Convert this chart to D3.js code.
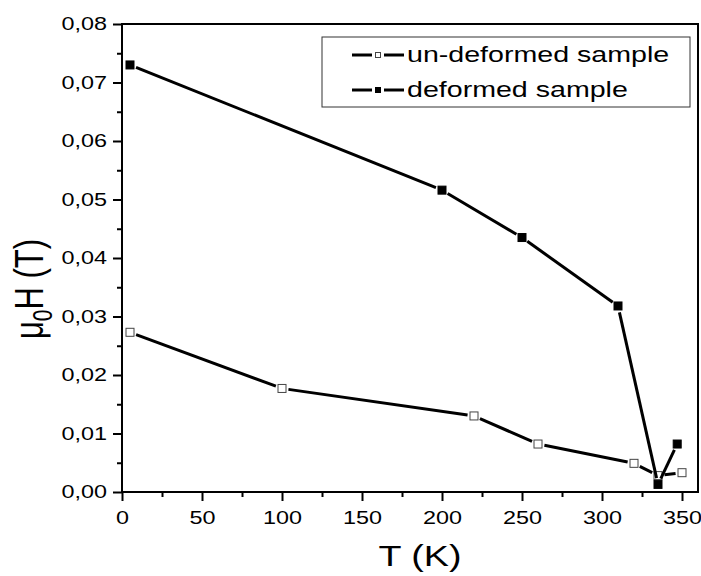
<!DOCTYPE html>
<html>
<head>
<meta charset="utf-8">
<script src="https://cdn.jsdelivr.net/npm/d3@7"></script>
<style>
  body { margin: 0; background: #fff; }
  text { font-family: "Liberation Sans", Arial, sans-serif; fill: #000; }
</style>
</head>
<body>
<div class="chart"></div>
<script>
// values
const tempsUndeformed = [5, 100, 220, 260, 320, 335, 350];
const fieldUndeformed = [0.0273, 0.0177, 0.0130, 0.0082, 0.0049, 0.0028, 0.0033];
const tempsDeformed = [5, 200, 250, 310, 335, 347];
const fieldDeformed = [0.0730, 0.0516, 0.0435, 0.0318, 0.0013, 0.0082];
const xTicks = [0, 50, 100, 150, 200, 250, 300, 350];
const yTicks = [0, 0.01, 0.02, 0.03, 0.04, 0.05, 0.06, 0.07, 0.08];
const seriesNames = ["un-deformed sample", "deformed sample"];

const width = 701, height = 576;
const stretch = 1.3; // the fonts in the picture are drawn wide

const svg = d3.select(".chart")
  .append("svg")
  .attr("width", width)
  .attr("height", height);

const x = d3.scaleLinear().domain([0, 360]).range([122, 698]);
const y = d3.scaleLinear().domain([0, 0.08]).range([492, 24]);

const fmt = d => d3.format(".2f")(d).replace(".", ",");

// minor ticks
svg.append("g")
  .attr("transform", "translate(0," + y(0) + ")")
  .call(d3.axisBottom(x).tickValues(xTicks.map(t => t + 25).filter(t => t < 360)).tickSize(5).tickFormat(""))
  .call(g => g.select(".domain").remove());
svg.append("g")
  .attr("transform", "translate(" + x(0) + ",0)")
  .call(d3.axisLeft(y).tickValues(yTicks.slice(0, -1).map(t => t + 0.005)).tickSize(5).tickFormat(""))
  .call(g => g.select(".domain").remove());

// major ticks
const xAxis = svg.append("g")
  .attr("transform", "translate(0," + y(0) + ")")
  .call(d3.axisBottom(x).tickValues(xTicks).tickSize(9).tickPadding(10).tickFormat(d3.format("d")));
const yAxis = svg.append("g")
  .attr("transform", "translate(" + x(0) + ",0)")
  .call(d3.axisLeft(y).tickValues(yTicks).tickSize(9).tickPadding(6).tickFormat(fmt));

[xAxis, yAxis].forEach(a => {
  a.select(".domain").remove();
  a.selectAll("text").attr("font-size", 18).attr("font-family", null);
});
xAxis.selectAll("text").attr("transform", "scale(" + stretch + ",1)");
yAxis.selectAll("text")
  .attr("x", -15 / stretch)
  .attr("transform", "scale(" + stretch + ",1)");
svg.selectAll(".tick line").attr("stroke", "#000").attr("stroke-width", 2);

// frame
svg.append("rect")
  .attr("x", x(0)).attr("y", y(0.08))
  .attr("width", x(360) - x(0)).attr("height", y(0) - y(0.08))
  .attr("fill", "none").attr("stroke", "#000").attr("stroke-width", 2);

// segments stop short of the markers
function drawSeries(temps, vals, filled) {
  const pts = temps.map((t, i) => [x(t), y(vals[i])]);
  const gap = 6.5;
  const segs = d3.pairs(pts).map(([a, b]) => {
    const dx = b[0] - a[0], dy = b[1] - a[1];
    const len = Math.hypot(dx, dy);
    const ux = dx / len, uy = dy / len;
    return [a[0] + ux * gap, a[1] + uy * gap, b[0] - ux * gap, b[1] - uy * gap];
  });
  const g = svg.append("g");
  g.selectAll("line")
    .data(segs)
    .enter()
    .append("line")
    .attr("x1", d => d[0]).attr("y1", d => d[1])
    .attr("x2", d => d[2]).attr("y2", d => d[3])
    .attr("stroke", "#000").attr("stroke-width", 3);
  g.selectAll("rect")
    .data(pts)
    .enter()
    .append("rect")
    .attr("x", d => d[0] - 4).attr("y", d => d[1] - 4)
    .attr("width", 8).attr("height", 8)
    .attr("fill", filled ? "#000" : "#fff")
    .attr("stroke", filled ? "#000" : "#444")
    .attr("stroke-width", 1);
}
drawSeries(tempsUndeformed, fieldUndeformed, false);
drawSeries(tempsDeformed, fieldDeformed, true);

// legend
const legend = svg.append("g");
legend.append("rect")
  .attr("x", 322).attr("y", 37).attr("width", 368).attr("height", 70)
  .attr("fill", "#fff").attr("stroke", "#333").attr("stroke-width", 1);
const item = legend.selectAll(".legends")
  .data(seriesNames)
  .enter()
  .append("g")
  .attr("transform", (d, i) => "translate(0," + (55 + i * 35) + ")");
item.append("line").attr("x1", 352).attr("x2", 372).attr("stroke", "#000").attr("stroke-width", 3);
item.append("line").attr("x1", 384).attr("x2", 404).attr("stroke", "#000").attr("stroke-width", 3);
item.append("rect")
  .attr("x", 375.5).attr("y", -2.5).attr("width", 5).attr("height", 5)
  .attr("fill", (d, i) => i ? "#000" : "#fff")
  .attr("stroke", (d, i) => i ? "#000" : "#444").attr("stroke-width", 1);
item.append("text")
  .attr("transform", "translate(407,7) scale(" + stretch + ",1)")
  .attr("font-size", 22)
  .text(d => d);

// axis titles
svg.append("text")
  .attr("transform", "translate(420,566) scale(" + stretch + ",1)")
  .attr("text-anchor", "middle")
  .attr("font-size", 29)
  .text("T (K)");

const yTitle = svg.append("text")
  .attr("transform", "translate(43,289) scale(" + stretch + ",1) rotate(-90)")
  .attr("text-anchor", "middle")
  .attr("font-size", 31);
yTitle.append("tspan").text("μ");
yTitle.append("tspan").attr("font-size", 21).attr("dy", 7).text("0");
yTitle.append("tspan").attr("dy", -7).text("H (T)");
</script>
</body>
</html>
